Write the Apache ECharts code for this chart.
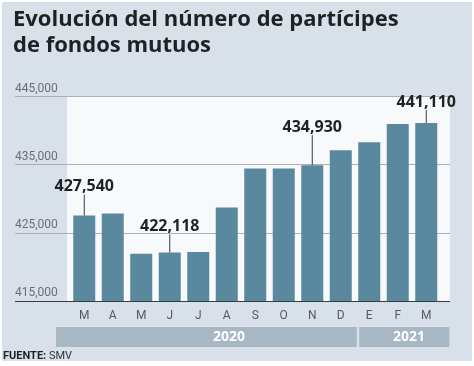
<!DOCTYPE html>
<html>
<head>
<meta charset="utf-8">
<script src="https://cdn.jsdelivr.net/npm/echarts@6/dist/echarts.min.js"></script>
<style>
html,body{margin:0;padding:0;background:#ffffff;}
#chart{width:474px;height:366px;}
</style>
</head>
<body>
<div id="chart"></div>
<script>
// ---- data ----
const months = ['M','A','M','J','J','A','S','O','N','D','E','F','M'];
const participants = [427540, 427840, 421920, 422118, 422200, 428700, 434450, 434450, 434930, 437100, 438300, 440950, 441110];
const annotatedIdx = [0, 3, 8, 12];
const years = ['2020', '2021'];
const yearSpans = [10, 3];
const yTicks = [415000, 425000, 435000, 445000];
const titleLines = ['Evolución del número de partícipes', 'de fondos mutuos'];
const sourceLabel = 'FUENTE:';
const sourceName = 'SMV';

// ---- styles ----
const leaderLen = [21, 18, 30, 13];
const BG = '#d8e1ea';
const BAR = '#5a889f';
const YEARBAR = '#a7b7c4';
const fmt = v => v.toLocaleString('en-US');

const chart = echarts.init(document.getElementById('chart'), null, {renderer: 'canvas'});

const annData = annotatedIdx.map((i, k) => [i, participants[i], k]);

const option = {
  backgroundColor: '#ffffff',
  animation: false,
  grid: [
    {left: 15, right: 24, top: 96.5, bottom: 65},
    {left: 70, right: 33.5, top: 96.5, bottom: 65}
  ],
  xAxis: [
    {gridIndex: 0, type: 'value', min: 0, max: 1, show: false},
    {gridIndex: 1, type: 'category', data: months,
      axisLine: {show: false}, axisTick: {show: false},
      axisLabel: {color: '#555a60', fontSize: 12, fontFamily: 'Roboto', margin: 9}}
  ],
  yAxis: [
    {gridIndex: 0, type: 'value', min: yTicks[0], max: yTicks[yTicks.length - 1], interval: 10000,
      axisLine: {show: false}, axisTick: {show: false},
      axisLabel: {color: '#6a6f76', fontSize: 12, fontFamily: 'Roboto', align: 'left', verticalAlign: 'bottom',
        margin: 0, padding: [0, 0, 2, 0], formatter: v => fmt(v)},
      splitLine: {show: true, lineStyle: {color: ['#3a3d40', '#a9b0b7', '#a9b0b7', '#a9b0b7'], width: 1}}},
    {gridIndex: 1, type: 'value', min: yTicks[0], max: yTicks[yTicks.length - 1], interval: 10000, show: false,
      splitLine: {show: false}}
  ],
  graphic: [
    {type: 'rect', z: -20, silent: true, shape: {x: 2, y: 2, width: 470, height: 359}, style: {fill: BG}},
    {type: 'rect', z: -10, silent: true, shape: {x: 67, y: 96.5, width: 383, height: 204.5}, style: {fill: '#f7f9fb'}},
    {type: 'text', left: 13, top: 7, style: {text: titleLines.join('\n'), font: 'bold 22px "Open Sans"', fill: '#1f2124', lineHeight: 26}},
    {type: 'rect', shape: {x: 56, y: 327, width: 300.7, height: 20}, style: {fill: YEARBAR}},
    {type: 'rect', shape: {x: 359.3, y: 327, width: 90, height: 20}, style: {fill: YEARBAR}},
    {type: 'text', x: 229, y: 337, style: {text: years[0], font: 'bold 14px "Open Sans"', fill: '#ffffff', align: 'center', verticalAlign: 'middle'}},
    {type: 'text', x: 409, y: 337, style: {text: years[1], font: 'bold 14px "Open Sans"', fill: '#ffffff', align: 'center', verticalAlign: 'middle'}},
    {type: 'text', x: 3, y: 356, style: {
      text: '{b|' + sourceLabel + '}{r| ' + sourceName + '}',
      verticalAlign: 'middle',
      rich: {b: {font: 'bold 11px Roboto', fill: '#1f2124'}, r: {font: '11px Roboto', fill: '#333'}}}}
  ],
  series: [
    {type: 'bar', xAxisIndex: 1, yAxisIndex: 1, data: participants, barWidth: 22,
      itemStyle: {color: BAR}, z: 3},
    {type: 'custom', xAxisIndex: 1, yAxisIndex: 1, data: annData, z: 5,
      renderItem: function (params, api) {
        const p = api.coord([api.value(0), api.value(1)]);
        const len = leaderLen[api.value(2)];
        return {
          type: 'group',
          children: [
            {type: 'line', shape: {x1: p[0], y1: p[1], x2: p[0], y2: p[1] - len},
              style: {stroke: '#3a3d40', lineWidth: 1}},
            {type: 'text', x: p[0], y: p[1] - len,
              style: {text: fmt(api.value(1)), font: 'bold 16px "Open Sans"', fill: '#1f2124',
                align: 'center', verticalAlign: 'bottom'}}
          ]
        };
      }}
  ]
};
chart.setOption(option);
</script>
</body>
</html>
